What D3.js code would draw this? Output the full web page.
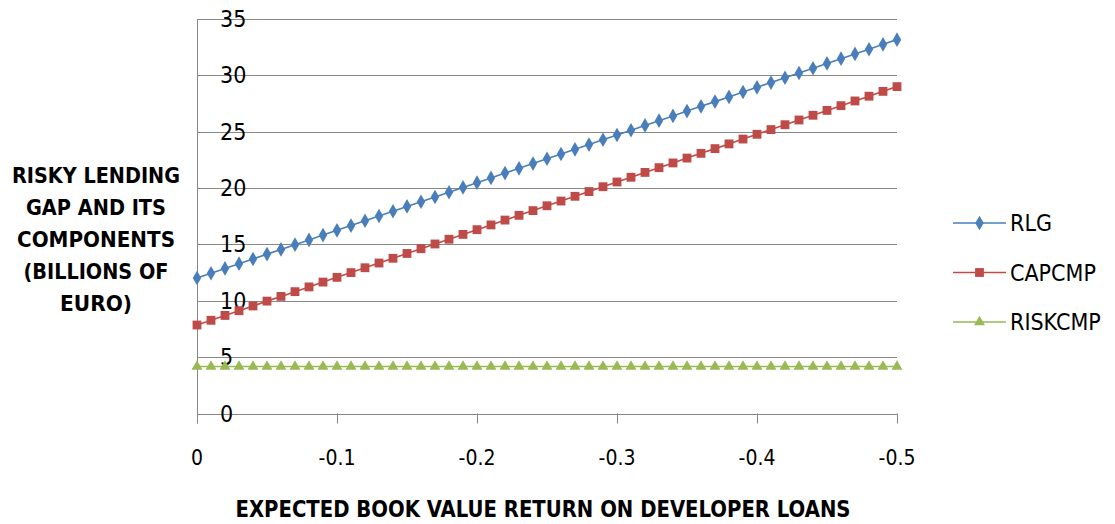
<!DOCTYPE html>
<html>
<head>
  <meta charset="UTF-8">
  <title>Risky lending gap</title>
  <style>
    body { margin: 0; background: #fff; }
    svg text { font-family: "DejaVu Sans Condensed", "Liberation Sans", sans-serif; fill: #000; }
    .grid line { stroke: #878787; stroke-width: 1; }
    .title { font-weight: bold; }
  </style>
</head>
<body>
  <svg id="chart" width="1115" height="524"></svg>
  <script src="https://d3js.org/d3.v7.min.js"></script>
  <script>

    // expected book value return on developer loans (x categories)
    var returns = [0, -0.01, -0.02, -0.03, -0.04, -0.05, -0.06, -0.07, -0.08, -0.09,
      -0.1, -0.11, -0.12, -0.13, -0.14, -0.15, -0.16, -0.17, -0.18, -0.19,
      -0.2, -0.21, -0.22, -0.23, -0.24, -0.25, -0.26, -0.27, -0.28, -0.29,
      -0.3, -0.31, -0.32, -0.33, -0.34, -0.35, -0.36, -0.37, -0.38, -0.39,
      -0.4, -0.41, -0.42, -0.43, -0.44, -0.45, -0.46, -0.47, -0.48, -0.49, -0.5];

    var rlg = [12.02, 12.44, 12.87, 13.29, 13.71, 14.14, 14.56, 14.98, 15.40, 15.83,
      16.25, 16.67, 17.10, 17.52, 17.94, 18.37, 18.79, 19.21, 19.63, 20.06,
      20.48, 20.90, 21.33, 21.75, 22.17, 22.60, 23.02, 23.44, 23.86, 24.29,
      24.71, 25.13, 25.56, 25.98, 26.40, 26.83, 27.25, 27.67, 28.09, 28.52,
      28.94, 29.36, 29.79, 30.21, 30.63, 31.06, 31.48, 31.90, 32.32, 32.75, 33.17];

    var capcmp = [7.85, 8.27, 8.70, 9.12, 9.54, 9.97, 10.39, 10.81, 11.23, 11.66,
      12.08, 12.50, 12.93, 13.35, 13.77, 14.20, 14.62, 15.04, 15.46, 15.89,
      16.31, 16.73, 17.16, 17.58, 18.00, 18.43, 18.85, 19.27, 19.69, 20.12,
      20.54, 20.96, 21.39, 21.81, 22.23, 22.66, 23.08, 23.50, 23.92, 24.35,
      24.77, 25.19, 25.62, 26.04, 26.46, 26.89, 27.31, 27.73, 28.15, 28.58, 29.00];

    var riskcmp = [4.17, 4.17, 4.17, 4.17, 4.17, 4.17, 4.17, 4.17, 4.17, 4.17,
      4.17, 4.17, 4.17, 4.17, 4.17, 4.17, 4.17, 4.17, 4.17, 4.17,
      4.17, 4.17, 4.17, 4.17, 4.17, 4.17, 4.17, 4.17, 4.17, 4.17,
      4.17, 4.17, 4.17, 4.17, 4.17, 4.17, 4.17, 4.17, 4.17, 4.17,
      4.17, 4.17, 4.17, 4.17, 4.17, 4.17, 4.17, 4.17, 4.17, 4.17, 4.17];

    var xTicks = [0, -0.1, -0.2, -0.3, -0.4, -0.5];
    var yTicks = [0, 5, 10, 15, 20, 25, 30, 35];
    var yTitle = ["RISKY LENDING", "GAP AND ITS", "COMPONENTS", "(BILLIONS OF", "EURO)"];
    var yTitleWidths = [168, 140, 158, 145, 72];
    var xTitle = "EXPECTED BOOK VALUE RETURN ON DEVELOPER LOANS";

    var series = [
      {name: "RLG", values: rlg, color: "#4a7ebb", symbol: d3.symbolDiamond, size: 62},
      {name: "CAPCMP", values: capcmp, color: "#be4b48", symbol: d3.symbolSquare, size: 78},
      {name: "RISKCMP", values: riskcmp, color: "#98b954", symbol: d3.symbolTriangle, size: 52}
    ];

    var svg = d3.select("#chart");

    var x = d3.scaleLinear().domain([0, -0.5]).range([197, 897]);
    var y = d3.scaleLinear().domain([0, 35]).range([413.5, 19]);

    // gridlines
    svg.append("g").attr("class", "grid")
      .selectAll("line").data(yTicks).enter().append("line")
        .attr("x1", x(0)).attr("x2", x(-0.5))
        .attr("y1", function(d) { return Math.round(y(d)) + 0.5; })
        .attr("y2", function(d) { return Math.round(y(d)) + 0.5; });

    // y axis line
    svg.append("line")
      .attr("x1", x(0) + 0.5).attr("x2", x(0) + 0.5)
      .attr("y1", y(35)).attr("y2", y(0) + 10)
      .attr("stroke", "#878787");

    // x ticks
    svg.append("g").attr("class", "grid")
      .selectAll("line").data(xTicks).enter().append("line")
        .attr("x1", function(d) { return Math.round(x(d)) + 0.5; })
        .attr("x2", function(d) { return Math.round(x(d)) + 0.5; })
        .attr("y1", y(0)).attr("y2", y(0) + 10);

    // y tick labels (sit on the gridlines, just right of the axis)
    svg.append("g").selectAll("text").data(yTicks).enter().append("text")
      .attr("x", 220)
      .attr("y", function(d) { return y(d) + 8; })
      .style("font-size", "23px")
      .text(function(d) { return d; });

    // x tick labels
    svg.append("g").selectAll("text").data(xTicks).enter().append("text")
      .attr("x", function(d) { return x(d); })
      .attr("y", 465)
      .attr("text-anchor", "middle")
      .style("font-size", "21px")
      .text(function(d) { return d === 0 ? "0" : d3.format(".1f")(d).replace("\u2212", "-"); });

    // lines + markers
    var line = d3.line()
      .x(function(d, i) { return x(returns[i]); })
      .y(function(d) { return y(d); });

    series.forEach(function(s) {
      var g = svg.append("g");
      g.append("path")
        .attr("d", line(s.values))
        .attr("fill", "none")
        .attr("stroke", s.color)
        .attr("stroke-width", 1.6);
      g.selectAll("path.m").data(s.values).enter().append("path")
        .attr("class", "m")
        .attr("d", d3.symbol().type(s.symbol).size(s.size))
        .attr("transform", function(d, i) { return "translate(" + x(returns[i]) + "," + y(d) + ")"; })
        .attr("fill", s.color);
    });

    // legend
    var legend = svg.append("g").selectAll("g").data(series).enter().append("g")
      .attr("transform", function(d, i) { return "translate(953," + (223 + i * 49.5) + ")"; });
    legend.append("line")
      .attr("x1", 0).attr("x2", 53)
      .attr("stroke", function(d) { return d.color; })
      .attr("stroke-width", 1.6);
    legend.append("path")
      .attr("d", function(d) { return d3.symbol().type(d.symbol).size(d.size)(); })
      .attr("transform", "translate(26.5,0)")
      .attr("fill", function(d) { return d.color; });
    legend.append("text")
      .attr("x", 57).attr("y", 8)
      .style("font-size", "23px")
      .text(function(d) { return d.name; });

    // y title
    svg.append("text").attr("class", "title")
      .attr("text-anchor", "middle")
      .style("font-size", "21px")
      .selectAll("tspan").data(yTitle).enter().append("tspan")
        .attr("x", 96)
        .attr("y", function(d, i) { return 183 + i * 32; })
        .attr("textLength", function(d, i) { return yTitleWidths[i]; })
        .attr("lengthAdjust", "spacingAndGlyphs")
        .text(function(d) { return d; });

    // x title
    svg.append("text").attr("class", "title")
      .attr("x", 543).attr("y", 517)
      .attr("text-anchor", "middle")
      .attr("textLength", 615)
      .attr("lengthAdjust", "spacingAndGlyphs")
      .style("font-size", "23px")
      .text(xTitle);

  </script>
</body>
</html>
